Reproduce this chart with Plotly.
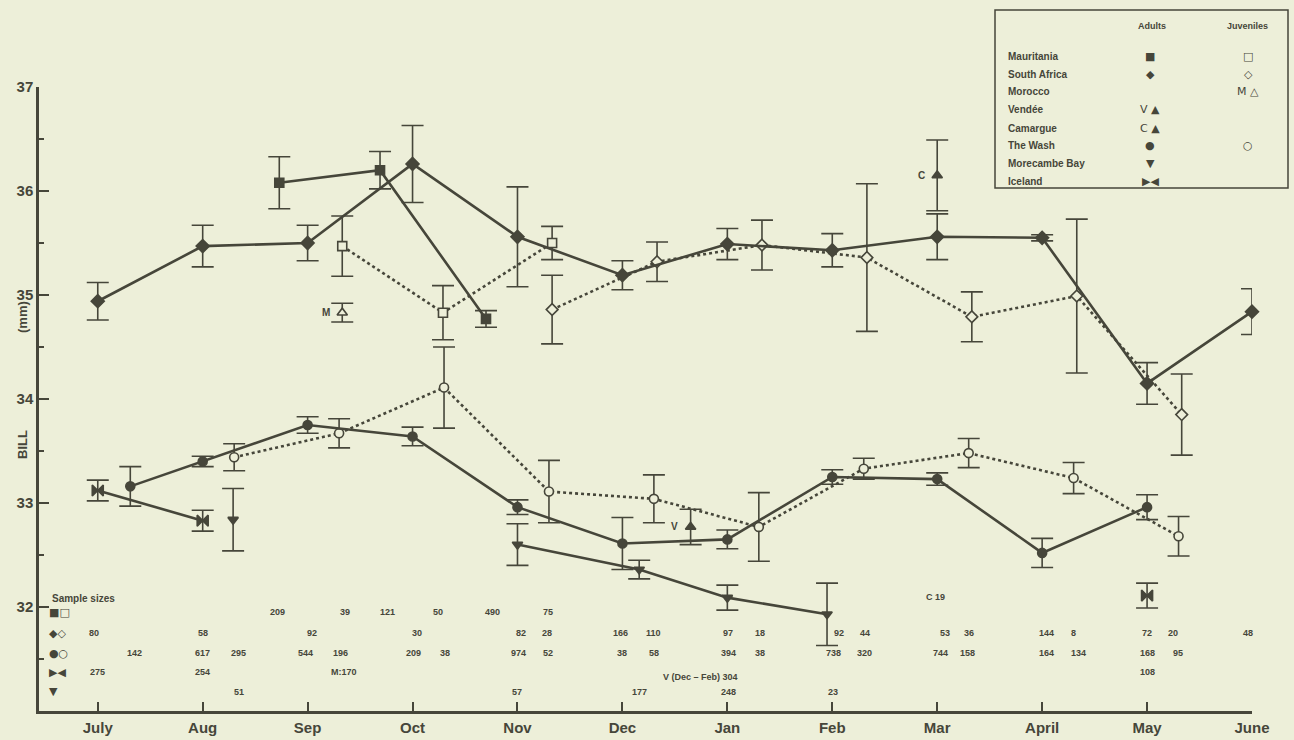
import plotly.graph_objects as go

W, H = 1294, 740
L, R, T, B = 39, 42, 87, 29
PW, PH = W - L - R, H - T - B
BG = "#edefd9"
INK = "#46463a"

def PX(x):
    return (x - L) / PW

def PY(y):
    return (H - B - y) / PH

months = ["July", "Aug", "Sep", "Oct", "Nov", "Dec", "Jan", "Feb", "Mar", "April", "May", "June"]

# ---- data (x = months after July, y = bill length mm, e = error half-width)
maur_ad_x = [1.73, 2.69, 3.70]
maur_ad_y = [36.08, 36.20, 34.77]
maur_ad_e = [0.25, 0.18, 0.08]

maur_juv_x = [2.33, 3.29, 4.33]
maur_juv_y = [35.47, 34.83, 35.50]
maur_juv_e = [0.29, 0.26, 0.16]

sa_ad_x = [0, 1, 2, 3, 4, 5, 6, 7, 8, 9, 10, 11]
sa_ad_y = [34.94, 35.47, 35.50, 36.26, 35.56, 35.19, 35.49, 35.43, 35.56, 35.55, 34.15, 34.84]
sa_ad_e = [0.18, 0.20, 0.17, 0.37, 0.48, 0.14, 0.15, 0.16, 0.22, 0.03, 0.20, 0.22]

sa_juv_x = [4.33, 5.33, 6.33, 7.33, 8.33, 9.33, 10.33]
sa_juv_y = [34.86, 35.32, 35.48, 35.36, 34.79, 34.99, 33.85]
sa_juv_e = [0.33, 0.19, 0.24, 0.71, 0.24, 0.74, 0.39]

mor_juv_x = [2.33]
mor_juv_y = [34.83]
mor_juv_e = [0.09]

ven_x = [5.65]
ven_y = [32.77]
ven_e = [0.17]

cam_x = [8.0]
cam_y = [36.15]
cam_e = [0.34]

wash_ad_x = [0.31, 1, 2, 3, 4, 5, 6, 7, 8, 9, 10]
wash_ad_y = [33.16, 33.40, 33.75, 33.64, 32.96, 32.61, 32.65, 33.25, 33.23, 32.52, 32.96]
wash_ad_e = [0.19, 0.05, 0.08, 0.09, 0.07, 0.25, 0.09, 0.07, 0.06, 0.14, 0.12]

wash_juv_x = [1.3, 2.3, 3.3, 4.3, 5.3, 6.3, 7.3, 8.3, 9.3, 10.3]
wash_juv_y = [33.44, 33.67, 34.11, 33.11, 33.04, 32.77, 33.33, 33.48, 33.24, 32.68]
wash_juv_e = [0.13, 0.14, 0.39, 0.30, 0.23, 0.33, 0.10, 0.14, 0.15, 0.19]

more_x = [1.29, 4.0, 5.16, 6.0, 6.95]
more_y = [32.84, 32.60, 32.36, 32.09, 31.93]
more_e = [0.30, 0.20, 0.09, 0.12, 0.30]

ice_x = [0, 1, 10]
ice_y = [33.12, 32.83, 32.11]
ice_e = [0.10, 0.10, 0.12]

# sample sizes: (x position in months, label)
n_maur_x = [1.71, 2.36, 2.76, 3.24, 3.76, 4.29]
n_maur = ["209", "39", "121", "50", "490", "75"]
n_sa_x = [-0.04, 1.0, 2.04, 3.04, 4.03, 4.28, 4.98, 5.30, 6.01, 6.31, 7.06, 7.31, 8.07, 8.30, 9.04, 9.30, 10.0, 10.25, 10.96]
n_sa = ["80", "58", "92", "30", "82", "28", "166", "110", "97", "18", "92", "44", "53", "36", "144", "8", "72", "20", "48"]
n_wash_x = [0.35, 1.0, 1.34, 1.98, 2.31, 3.01, 3.31, 4.01, 4.29, 5.0, 5.30, 6.01, 6.31, 7.01, 7.31, 8.03, 8.29, 9.04, 9.35, 10.0, 10.29]
n_wash = ["142", "617", "295", "544", "196", "209", "38", "974", "52", "38", "58", "394", "38", "738", "320", "744", "158", "164", "134", "168", "95"]
n_ice_x = [0.0, 1.0, 2.35, 10.0]
n_ice = ["275", "254", "M:170", "108"]
n_more_x = [1.35, 4.0, 5.16, 6.01, 7.01]
n_more = ["51", "57", "177", "248", "23"]

fig = go.Figure()

def series(x, y, e, symbol, filled, dash=None, size=9, lines=True):
    mk = dict(symbol=symbol, size=size, color=INK if filled else BG,
              line=dict(color=INK, width=1.6))
    fig.add_trace(go.Scatter(
        x=x, y=y, mode="lines+markers" if lines else "markers",
        line=dict(color=INK, width=2.6, dash=dash or "solid"),
        marker=mk,
        error_y=dict(type="data", array=e, symmetric=True, color=INK, thickness=1.6, width=11),
        showlegend=False, hoverinfo="x+y", cliponaxis=False))

def line_only(x, y, dash):
    fig.add_trace(go.Scatter(x=x, y=y, mode="lines",
                             line=dict(color=INK, width=2.6, dash=dash),
                             showlegend=False, hoverinfo="skip"))

series(wash_juv_x, wash_juv_y, wash_juv_e, "circle", False, "dot")
series(sa_juv_x, sa_juv_y, sa_juv_e, "diamond", False, "dot")
series(maur_juv_x, maur_juv_y, maur_juv_e, "square", False, "dot", size=9)
line_only(ice_x[:2], ice_y[:2], "solid")
line_only(more_x[1:], more_y[1:], "solid")
series(sa_ad_x, sa_ad_y, sa_ad_e, "diamond", True, size=10)
series(wash_ad_x, wash_ad_y, wash_ad_e, "circle", True)
series(maur_ad_x, maur_ad_y, maur_ad_e, "square", True, size=9)
series(ice_x, ice_y, ice_e, "bowtie", True, size=11, lines=False)
series(more_x, more_y, more_e, "triangle-down", True, size=9, lines=False)
series(mor_juv_x, mor_juv_y, mor_juv_e, "triangle-up", False, size=9, lines=False)
series(ven_x, ven_y, ven_e, "triangle-up", True, size=9, lines=False)
series(cam_x, cam_y, cam_e, "triangle-up", True, size=9, lines=False)

ann = []

def pann(px, py, text, font, xanchor="center", angle=0):
    ann.append(dict(x=PX(px), y=PY(py), xref="paper", yref="paper", text=text, showarrow=False,
                    xanchor=xanchor, yanchor="middle", textangle=angle, font=font))

# letter tags near single-site points
for lab, x, y in (("M", mor_juv_x[0], mor_juv_y[0]), ("V", ven_x[0], ven_y[0]), ("C", cam_x[0], cam_y[0])):
    ann.append(dict(x=x, y=y, xref="x", yref="y", text="<b>" + lab + "</b>", showarrow=False,
                    xshift=-16, font=dict(size=10, color=INK, family="Liberation Sans")))

numfont = dict(size=9, color=INK, family="Liberation Sans")
rows = [(n_maur_x, n_maur, 612), (n_sa_x, n_sa, 633), (n_wash_x, n_wash, 653),
        (n_ice_x, n_ice, 672), (n_more_x, n_more, 692)]
for xs, labs, py in rows:
    for x, t in zip(xs, labs):
        ann.append(dict(x=x, y=PY(py), xref="x", yref="paper", text="<b>" + t + "</b>",
                        showarrow=False, xanchor="center", yanchor="middle", font=numfont))
ann.append(dict(x=5.74, y=PY(677), xref="x", yref="paper", text="<b>V (Dec – Feb) 304</b>",
                showarrow=False, xanchor="center", yanchor="middle", font=numfont))
ann.append(dict(x=7.98, y=PY(597), xref="x", yref="paper", text="<b>C 19</b>",
                showarrow=False, xanchor="center", yanchor="middle", font=numfont))
pann(50, 598, "<b>Sample sizes</b>", dict(size=10, color=INK, family="Liberation Sans"), xanchor="left")
glyphfont = dict(size=11, color=INK, family="DejaVu Sans")
for g, py in (("■□", 612), ("◆◇", 633), ("●○", 653), ("▶◀", 672), ("▼", 691)):
    pann(47, py, g, glyphfont, xanchor="left")

# y-axis title pieces
for t, py in (("<b>BILL</b>", 445), ("<b>(mm)</b>", 317)):
    pann(22, py, t, dict(size=13, color=INK, family="Liberation Sans"), angle=-90)

# legend box
lfont = dict(size=10, color=INK, family="Liberation Sans")
pann(1152, 26, "<b>Adults</b>", dict(size=9, color=INK, family="Liberation Sans"))
pann(1247, 26, "<b>Juveniles</b>", dict(size=9, color=INK, family="Liberation Sans"))
legend_rows = [
    ("Mauritania", 57, "■", "□"),
    ("South Africa", 74, "◆", "◇"),
    ("Morocco", 92, "", "M △"),
    ("Vendée", 110, "V ▲", ""),
    ("Camargue", 128, "C ▲", ""),
    ("The Wash", 145, "●", "○"),
    ("Morecambe Bay", 163, "▼", ""),
    ("Iceland", 181, "▶◀", ""),
]
gfont = dict(size=11, color=INK, family="DejaVu Sans")
for name, py, ga, gj in legend_rows:
    pann(1006, py, "<b>" + name + "</b>", lfont, xanchor="left")
    if ga:
        pann(1150, py, ga, gfont)
    if gj:
        pann(1248, py, gj, gfont)

shapes = [dict(type="rect", xref="paper", yref="paper", x0=PX(995), x1=PX(1288),
               y0=PY(188), y1=PY(10), line=dict(color=INK, width=1.5), fillcolor="rgba(0,0,0,0)",
               layer="above")]

tickfont = dict(size=15, color=INK, family="Liberation Sans")
fig.update_layout(
    width=W, height=H, margin=dict(l=L, r=R, t=T, b=B, autoexpand=False),
    paper_bgcolor=BG, plot_bgcolor=BG,
    annotations=ann, shapes=shapes, showlegend=False,
    xaxis=dict(range=[-0.56, 11], tickvals=list(range(12)), ticktext=["<b>%s</b>" % m for m in months],
               ticks="inside", ticklen=9, tickwidth=2, tickcolor=INK, showline=True, linecolor=INK,
               linewidth=2.5, showgrid=False, zeroline=False, tickfont=tickfont, ticklabelstandoff=1,
               automargin=False),
    yaxis=dict(range=[31, 37], tickvals=[32, 33, 34, 35, 36, 37],
               ticktext=["<b>%d</b>" % v for v in [32, 33, 34, 35, 36, 37]],
               ticks="inside", ticklen=10, tickwidth=2, tickcolor=INK, showline=True, linecolor=INK,
               linewidth=2.5, showgrid=False, zeroline=False, tickfont=tickfont, automargin=False,
               minor=dict(tickvals=[31.5, 32.5, 33.5, 34.5, 35.5, 36.5], ticks="inside", ticklen=5,
                          tickwidth=1.5, tickcolor=INK)),
)

fig.write_html("out.html", config={"displayModeBar": False},
               post_script="document.body.style.margin='0px';document.body.style.overflow='hidden';")
